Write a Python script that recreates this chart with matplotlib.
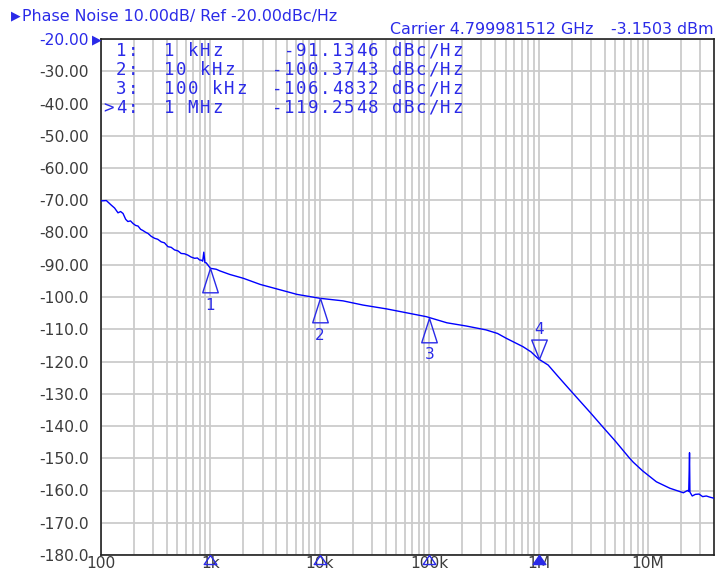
import numpy as np
import matplotlib
matplotlib.use("Agg")
import matplotlib.pyplot as plt
from matplotlib.ticker import FixedLocator, NullFormatter

# trace (Hz, dBc/Hz)
freq = [100, 112, 124, 133, 143, 151, 159, 168, 176, 186, 196, 207, 218, 230, 242,
        255, 269, 288, 309, 330, 355, 380, 409, 438, 470, 505, 540, 580, 621, 665,
        717, 760, 795, 830, 850, 870, 890, 915, 1000, 1130, 1220, 1500, 2000, 2850,
        4050, 6200, 10e3, 16.3e3, 24.8e3, 40.9e3, 66.5e3, 94e3, 145e3, 218e3,
        330e3, 420e3, 505e3, 718e3, 850e3, 1e6, 1.22e6, 1.5e6, 1.93e6, 2.99e6,
        3.9e6, 4.7e6, 5.05e6, 6.7e6, 7.3e6, 8.9e6, 11.9e6, 15.8e6, 21e6, 22.9e6,
        23.5e6, 23.7e6, 23.9e6, 24.1e6, 25.3e6, 27e6, 29.2e6, 31.5e6, 34e6, 37e6,
        40e6]
pn = [-70.2, -70.1, -71.5, -72.4, -73.9, -73.5, -74.1, -75.9, -76.6, -76.4, -77.2,
      -77.8, -78.0, -79.0, -79.4, -79.9, -80.3, -81.2, -81.8, -82.1, -82.9, -83.2,
      -84.4, -84.6, -85.4, -85.7, -86.5, -86.6, -87.0, -87.6, -88.0, -87.9, -88.5,
      -88.6, -88.9, -86.1, -89.3, -89.4, -91.1, -91.4, -91.9, -93.0, -94.2, -96.1,
      -97.5, -99.2, -100.4, -101.2, -102.5, -103.7, -105.1, -106.1, -108.0, -109.0,
      -110.2, -111.3, -112.8, -115.4, -117.0, -119.25, -121.1, -124.6, -128.8,
      -136.0, -140.5, -143.6, -144.8, -149.8, -151.2, -153.9, -157.3, -159.3,
      -160.7, -160.0, -160.3, -154.7, -148.3, -160.5, -161.7, -161.2, -161.1,
      -161.9, -161.7, -162.1, -162.4]

# markers
mk_freq = [1e3, 10e3, 100e3, 1e6]
mk_val = [-91.1346, -100.3743, -106.4832, -119.2548]
mk_id = ["1:", "2:", "3:", ">4:"]
mk_flab = ["1 kHz", "10 kHz", "100 kHz", "1 MHz"]
mk_vlab = ["-91.1346", "-100.3743", "-106.4832", "-119.2548"]

yticks = [-20, -30, -40, -50, -60, -70, -80, -90, -100, -110, -120, -130, -140,
          -150, -160, -170, -180]
ylabels = ["-20.00", "-30.00", "-40.00", "-50.00", "-60.00", "-70.00", "-80.00",
           "-90.00", "-100.0", "-110.0", "-120.0", "-130.0", "-140.0", "-150.0",
           "-160.0", "-170.0", "-180.0"]
xticks = [100, 1e3, 1e4, 1e5, 1e6, 1e7]
xlabels = ["100", "1k", "10k", "100k", "1M", "10M"]

BLUE = "#2a2ae8"
TRACE = "#0000ff"
GRID = "#cbcbcb"
GREY = "#3c3c3c"

W, H = 716, 575
fig = plt.figure(figsize=(W / 100, H / 100), dpi=100)
ax = fig.add_axes([101 / W, 20 / H, 613 / W, 516 / H])

ax.set_xscale("log")
ax.set_xlim(100, 40e6)
ax.set_ylim(-180, -20)

ax.xaxis.set_major_locator(FixedLocator(xticks))
minors = [m * 10 ** e for e in range(2, 8) for m in range(2, 10) if m * 10 ** e < 40e6]
ax.xaxis.set_minor_locator(FixedLocator(minors))
ax.xaxis.set_minor_formatter(NullFormatter())
ax.set_xticks(xticks, xlabels)
ax.set_yticks(yticks, ylabels)
ax.grid(True, which="both", color=GRID, linewidth=1.3)
ax.set_axisbelow(True)
ax.tick_params(which="both", length=0, labelsize=11.2, colors=GREY)
ax.tick_params(axis="y", pad=8.6)
ax.tick_params(axis="x", pad=1)
ax.get_yticklabels()[0].set_color(BLUE)
for s in ax.spines.values():
    s.set_color("#202020")
    s.set_linewidth(1.2)

ax.plot(freq, pn, color=TRACE, lw=1.0, zorder=3)

# marker triangles on trace
up = [(0, 0), (-0.32, -1), (0.32, -1), (0, 0)]
down = [(0, 0), (-0.4, 1), (0.4, 1), (0, 0)]
foot = [(0, 0), (-0.7, -1), (0.7, -1), (0, 0)]
for i, (f, v) in enumerate(zip(mk_freq, mk_val)):
    if i < 3:
        ax.plot([f], [v], marker=up, ms=35, mfc="none", mec=BLUE, mew=1.0,
                clip_on=False, zorder=4)
        ax.annotate(str(i + 1), (f, v), xytext=(0, -37), textcoords="offset pixels",
                    ha="center", va="center", color=BLUE, fontsize=11)
    else:
        ax.plot([f], [v], marker=down, ms=28, mfc="none", mec=BLUE, mew=1.0,
                clip_on=False, zorder=4)
        ax.annotate("4", (f, v), xytext=(0, 30), textcoords="offset pixels",
                    ha="center", va="center", color=BLUE, fontsize=11)
    # small markers on bottom axis
    ax.plot([f], [-180], marker=foot, ms=13, mfc=(BLUE if i == 3 else "none"),
            mec=BLUE, mew=1.0, clip_on=False, zorder=5)

# marker table, fixed character cells
mono = "DejaVu Sans Mono"
cw = 12.0
for r in range(4):
    line = "%3s  %-9s%9s dBc/Hz" % (mk_id[r], mk_flab[r], mk_vlab[r])
    yy = 1 - (12 + 19 * r) / 516
    for j, ch in enumerate(line):
        if ch == " ":
            continue
        ax.text((2 + j * cw + cw / 2) / 613, yy, ch, transform=ax.transAxes,
                ha="center", va="center", family=mono, fontsize=12.5, color=BLUE)

# header
fig.text(11 / W, 1 - 16 / H, "\u25b6", color=BLUE, fontsize=9, va="center", ha="left")
fig.text(22 / W, 1 - 16 / H, "Phase Noise 10.00dB/ Ref -20.00dBc/Hz", color=BLUE,
         fontsize=11.4, va="center", ha="left")
fig.text(390 / W, 1 - 30 / H, "Carrier 4.799981512 GHz", color=BLUE,
         fontsize=11.4, va="center", ha="left")
fig.text(714 / W, 1 - 30 / H, "-3.1503 dBm", color=BLUE,
         fontsize=11.4, va="center", ha="right")
fig.text(92 / W, 1 - 40 / H, "\u25b6", color=BLUE, fontsize=9, va="center", ha="left")

fig.savefig("out.png", dpi=100)
